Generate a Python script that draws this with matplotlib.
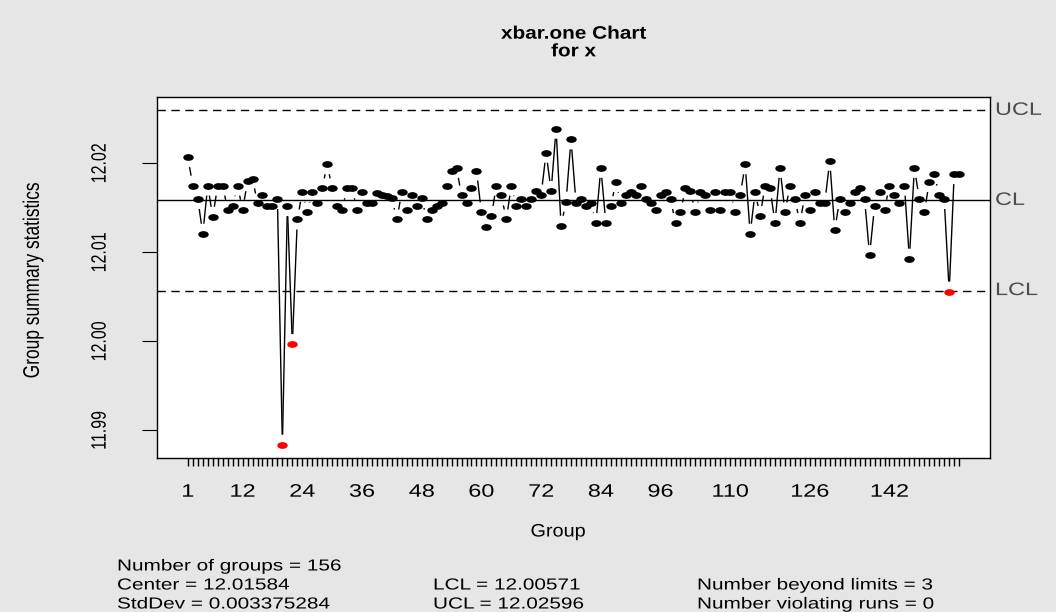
import numpy as np
import matplotlib.pyplot as plt
from matplotlib.path import Path
from matplotlib.transforms import Affine2D, blended_transform_factory
from matplotlib.collections import LineCollection
from matplotlib.patheffects import AbstractPathEffect

plt.rcParams['font.family'] = ['Liberation Sans', 'DejaVu Sans']

# ---- data ----
GROUPS = np.arange(1, 157)
VALUES = [
    12.0207, 12.0175, 12.0160, 12.0121, 12.0175, 12.0140, 12.0175, 12.0175, 12.0148, 12.0152,
    12.0175, 12.0148, 12.0180, 12.0183, 12.0155, 12.0164, 12.0152, 12.0152, 12.0160, 11.9884,
    12.0152, 11.9997, 12.0137, 12.0168, 12.0145, 12.0168, 12.0156, 12.0172, 12.0199, 12.0172,
    12.0152, 12.0148, 12.0172, 12.0172, 12.0148, 12.0168, 12.0156, 12.0156, 12.0167, 12.0165,
    12.0163, 12.0161, 12.0137, 12.0168, 12.0148, 12.0164, 12.0152, 12.0161, 12.0137, 12.0148,
    12.0152, 12.0156, 12.0175, 12.0192, 12.0195, 12.0164, 12.0156, 12.0172, 12.0192, 12.0145,
    12.0129, 12.0141, 12.0175, 12.0164, 12.0137, 12.0175, 12.0152, 12.0160, 12.0152, 12.0160,
    12.0169, 12.0165, 12.0212, 12.0169, 12.0239, 12.0130, 12.0157, 12.0227, 12.0156, 12.0160,
    12.0152, 12.0156, 12.0133, 12.0195, 12.0133, 12.0152, 12.0179, 12.0156, 12.0164, 12.0168,
    12.0164, 12.0175, 12.0160, 12.0156, 12.0148, 12.0164, 12.0168, 12.0160, 12.0133, 12.0145,
    12.0172, 12.0169, 12.0145, 12.0168, 12.0164, 12.0148, 12.0168, 12.0148, 12.0168, 12.0168,
    12.0145, 12.0164, 12.0199, 12.0121, 12.0168, 12.0141, 12.0175, 12.0172, 12.0133, 12.0195,
    12.0145, 12.0175, 12.0160, 12.0133, 12.0164, 12.0148, 12.0168, 12.0156, 12.0156, 12.0203,
    12.0125, 12.0160, 12.0145, 12.0156, 12.0168, 12.0172, 12.0160, 12.0097, 12.0152, 12.0168,
    12.0148, 12.0175, 12.0164, 12.0156, 12.0175, 12.0093, 12.0195, 12.0160, 12.0145, 12.0179,
    12.0188, 12.0164, 12.0160, 12.0056, 12.0188, 12.0188,
]
CENTER = 12.01584
LCL = 12.00571
UCL = 12.02596
STDDEV = 0.003375284
N_BEYOND = 3
N_RUNS = 0
TICK_GROUPS = [1, 12, 24, 36, 48, 60, 72, 84, 96, 110, 126, 142]
Y_TICKS = [11.99, 12.00, 12.01, 12.02]

W, H = 1056, 612
BG = '#E6E6E6'
LABEL_GREY = '#4D4D4D'
SX = 1.3   # the reference is stretched sideways, text included


class StretchX(AbstractPathEffect):
    ''' widen text glyphs horizontally (text stays a Text artist) '''
    def __init__(self, sx, mode='left'):
        super().__init__()
        self.sx = sx
        self.mode = mode

    def draw_path(self, renderer, gc, tpath, affine, rgbFace=None):
        if self.mode == 'left':
            cx = affine.transform((0, 0))[0]
        else:
            ext = tpath.get_extents(affine)
            cx = (ext.x0 + ext.x1) / 2
        t = affine + Affine2D().translate(-cx, 0).scale(self.sx, 1).translate(cx, 0)
        renderer.draw_path(gc, tpath, t, rgbFace)


def wide(txt, mode='left', sx=SX):
    txt.set_path_effects([StretchX(sx, mode)])
    return txt


vals = np.array(VALUES)
fig = plt.figure(figsize=(W / 100, H / 100), dpi=100, facecolor=BG)
ax = fig.add_axes([157 / W, 1 - 458 / H, (990 - 157) / W, (458 - 97) / H])
ax.set_facecolor('white')

# R style 4% axis extension
n = len(vals)
ax.set_xlim(1 - 0.04 * (n - 1), n + 0.04 * (n - 1))
lo = min(vals.min(), LCL)
hi = max(vals.max(), UCL)
ax.set_ylim(lo - 0.04 * (hi - lo), hi + 0.04 * (hi - lo))

# control lines
ax.axhline(CENTER, color='black', lw=1.0, zorder=2)
ax.axhline(UCL, color='black', lw=1.0, ls=(0, (6, 4)), zorder=2)
ax.axhline(LCL, color='black', lw=1.0, ls=(0, (6, 4)), zorder=2)

# connecting segments with gaps near the points (R type="b")
pts = ax.transData.transform(np.column_stack([GROUPS, vals]))
sx, gap = 1.7, 10.0
segs = []
for p0, p1 in zip(pts[:-1], pts[1:]):
    dx = (p1[0] - p0[0]) / sx
    dy = p1[1] - p0[1]
    d = np.hypot(dx, dy)
    if d <= 2 * gap:
        continue
    f = gap / d
    a = p0 + (p1 - p0) * f
    b = p1 - (p1 - p0) * f
    segs.append(ax.transData.inverted().transform(np.array([a, b])))
ax.add_collection(LineCollection(segs, colors='black', linewidths=1.0, zorder=3))

# points (oval, like the stretched reference)
oval = Path.unit_circle().transformed(Affine2D().scale(1.7, 1.0))
out = (vals > UCL) | (vals < LCL)
ax.plot(GROUPS[~out], vals[~out], ls='none', marker=oval, ms=6.5,
        color='black', zorder=4)
ax.plot(GROUPS[out], vals[out], ls='none', marker=oval, ms=6.5,
        color='#FF0000', zorder=4)

# axes / ticks
for s in ax.spines.values():
    s.set_linewidth(1.0)
ax.set_xticks(GROUPS)
ax.set_xticklabels([str(g) if g in TICK_GROUPS else '' for g in GROUPS])
ax.tick_params(axis='x', length=5.5, width=1.0, pad=13, labelsize=13)
ax.set_yticks(Y_TICKS)
ax.set_yticklabels(['%.2f' % t for t in Y_TICKS], rotation=90, va='center')
ax.tick_params(axis='y', length=11, width=0.8, pad=25, labelsize=11.5)
for lab in ax.get_xticklabels():
    wide(lab, 'center')
for lab in ax.get_yticklabels():
    wide(lab, 'center')

# limit labels on the right
trans = blended_transform_factory(ax.transAxes, ax.transData)
for lab, yv in [('UCL', UCL), ('CL', CENTER), ('LCL', LCL)]:
    wide(ax.text(1.006, yv, lab, transform=trans, ha='left', va='center',
                 fontsize=13, color=LABEL_GREY))

# titles and axis labels
wide(fig.text(573.5 / W, 1 - 43 / H, 'xbar.one Chart\nfor x', ha='center', va='center',
              fontsize=13, fontweight='bold', linespacing=1.05), 'center', 1.15)
wide(fig.text(558 / W, 1 - 532 / H, 'Group', ha='center', va='center', fontsize=13),
     'center', 1.1)
wide(fig.text(33 / W, 1 - 280 / H, 'Group summary statistics', ha='center', va='center',
              rotation=90, fontsize=12.5), 'center')

# summary statistics
rows = [1 - 566 / H, 1 - 585 / H, 1 - 604 / H]
fs = 11.5
stats = [
    (117, 0, 'Number of groups = %d' % n),
    (117, 1, 'Center = %.5f' % CENTER),
    (117, 2, 'StdDev = %s' % STDDEV),
    (433, 1, 'LCL = %.5f' % LCL),
    (433, 2, 'UCL = %.5f' % UCL),
    (697, 1, 'Number beyond limits = %d' % N_BEYOND),
    (697, 2, 'Number violating runs = %d' % N_RUNS),
]
for xp, r, s in stats:
    wide(fig.text(xp / W, rows[r], s, va='center', fontsize=fs))

fig.savefig('out.png', dpi=100, facecolor=BG)
